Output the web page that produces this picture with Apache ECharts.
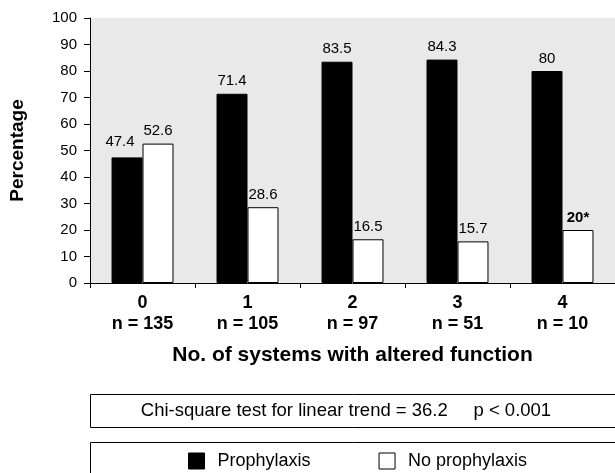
<!DOCTYPE html>
<html>
<head>
<meta charset="utf-8">
<script src="https://cdn.jsdelivr.net/npm/echarts@6/dist/echarts.min.js"></script>
<style>html,body{margin:0;padding:0;background:#fff}#c{width:615px;height:473px}</style>
</head>
<body>
<div id="c"></div>
<script>
const categories = ['0', '1', '2', '3', '4'];
const nLabels = ['n = 135', 'n = 105', 'n = 97', 'n = 51', 'n = 10'];
const prophylaxis = [47.4, 71.4, 83.5, 84.3, 80];
const noProphylaxis = [52.6, 28.6, 16.5, 15.7, 20];
const noProphylaxisLabels = ['52.6', '28.6', '16.5', '15.7', '20*'];
const yTicks = [0, 10, 20, 30, 40, 50, 60, 70, 80, 90, 100];
const chiText = 'Chi-square test for linear trend = 36.2     p < 0.001';

const FONT = 'Liberation Sans, Arial, sans-serif';
const chart = echarts.init(document.getElementById('c'));
chart.setOption({
  animation: false,
  textStyle: { fontFamily: FONT, color: '#000' },
  grid: { left: 90, right: -4, top: 18, bottom: 190, show: true, backgroundColor: '#e9e9e9', borderWidth: 0 },
  legend: {
    left: 188, top: 452, padding: 0, z: 10,
    itemWidth: 16, itemHeight: 16, itemGap: 68,
    icon: 'rect',
    textStyle: { fontFamily: FONT, fontSize: 18, color: '#000', padding: [0, 0, 0, 8] },
    data: [
      { name: 'Prophylaxis', itemStyle: { color: '#000', borderColor: '#000', borderWidth: 1 } },
      { name: 'No prophylaxis', itemStyle: { color: '#fff', borderColor: '#000', borderWidth: 1 } }
    ]
  },
  xAxis: {
    type: 'category',
    data: categories,
    axisLine: { lineStyle: { color: '#000', width: 1 } },
    axisTick: { show: true, length: 5, lineStyle: { color: '#000' } },
    axisLabel: {
      margin: 10,
      formatter: (v, i) => '{a|' + v + '}\n{b|' + nLabels[i] + '}',
      rich: {
        a: { fontFamily: FONT, fontSize: 18, fontWeight: 'bold', color: '#000', lineHeight: 21 },
        b: { fontFamily: FONT, fontSize: 18, fontWeight: 'bold', color: '#000', lineHeight: 21 }
      }
    },
    name: 'No. of systems with altered function',
    nameLocation: 'middle',
    nameGap: 62,
    nameTextStyle: { fontFamily: FONT, fontSize: 21, fontWeight: 'bold', color: '#000' }
  },
  yAxis: {
    type: 'value',
    min: 0, max: 100, interval: 10,
    axisLine: { show: true, lineStyle: { color: '#000', width: 1 } },
    axisTick: { show: true, length: 6, lineStyle: { color: '#000' } },
    axisLabel: { fontFamily: FONT, fontSize: 15, color: '#000', margin: 13,
      formatter: v => yTicks.includes(v) ? String(v) : '' },
    splitLine: { show: false },
    name: 'Percentage',
    nameLocation: 'middle',
    nameRotate: 90,
    nameGap: 63,
    nameTextStyle: { fontFamily: FONT, fontSize: 19, fontWeight: 'bold', color: '#000' }
  },
  series: [
    {
      name: 'Prophylaxis', type: 'bar',
      data: prophylaxis.map((v, i) => i === 0 ? { value: v, label: { offset: [-7, -3] } } : v),
      barGap: '0%', barCategoryGap: '41%',
      itemStyle: { color: '#000', borderColor: '#000', borderWidth: 1 },
      label: { show: true, position: 'top', distance: 5, fontFamily: FONT, fontSize: 15, color: '#000' }
    },
    {
      name: 'No prophylaxis', type: 'bar',
      data: noProphylaxis.map((v, i) => ({
        value: v,
        label: { formatter: noProphylaxisLabels[i], fontWeight: noProphylaxisLabels[i].includes('*') ? 'bold' : 'normal' }
      })),
      itemStyle: { color: '#fff', borderColor: '#000', borderWidth: 1 },
      label: { show: true, position: 'top', distance: 5, fontFamily: FONT, fontSize: 15, color: '#000' }
    }
  ],
  graphic: [
    { type: 'rect', z: 0, shape: { x: 90.5, y: 394.5, width: 600, height: 33 }, style: { fill: '#fff', stroke: '#000', lineWidth: 1 } },
    { type: 'text', z: 1, x: 346, y: 411, style: { text: chiText, fontFamily: FONT, fontSize: 18.5, fill: '#000', align: 'center', verticalAlign: 'middle' } },
    { type: 'rect', z: 0, shape: { x: 90.5, y: 442.5, width: 600, height: 60 }, style: { fill: '#fff', stroke: '#000', lineWidth: 1 } }
  ]
});
</script>
</body>
</html>
